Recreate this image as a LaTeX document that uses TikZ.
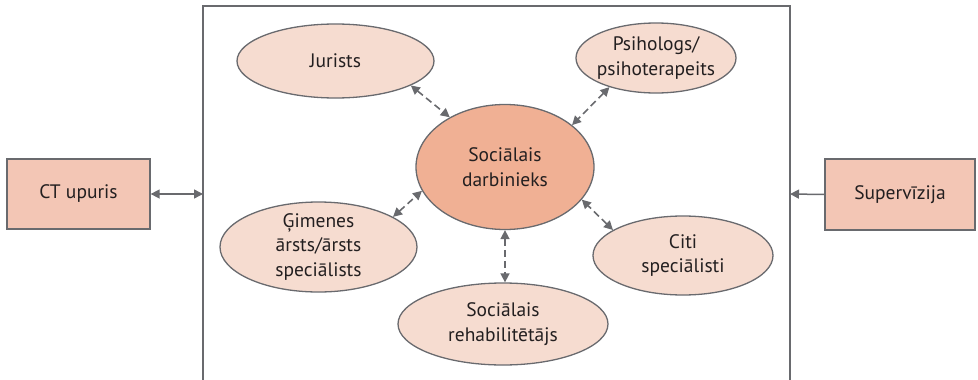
\documentclass[tikz,border=0pt]{standalone}
\usepackage{fontspec}
\setmainfont{PT Sans}
\usetikzlibrary{shapes.geometric,arrows.meta}
\definecolor{edgegray}{RGB}{105,106,110}
\definecolor{lightfill}{RGB}{246,220,208}
\definecolor{midfill}{RGB}{240,176,148}
\definecolor{boxfill}{RGB}{243,198,181}
\definecolor{textcol}{RGB}{35,31,32}
\tikzset{
  oval/.style={ellipse, draw=edgegray, line width=1.3pt, fill=lightfill, inner sep=0pt,
     align=center, text=textcol, font=\fontsize{19.5}{24.5}\selectfont},
  centeroval/.style={oval, fill=midfill},
  sidebox/.style={rectangle, draw=edgegray, line width=1.3pt, fill=boxfill, inner sep=0pt,
     align=center, text=textcol, font=\fontsize{19.5}{24.5}\selectfont},
  link/.style={draw=edgegray, line width=1.6pt, dash pattern=on 7pt off 4pt, {Triangle[length=9pt,width=9pt]}-{Triangle[length=9pt,width=9pt]}},
  solidlink/.style={draw=edgegray, line width=1.5pt},
  frame/.style={draw=edgegray, line width=1.8pt}
}
\begin{document}
\begin{tikzpicture}[x=1pt,y=-1pt]
\useasboundingbox (0,0) rectangle (978,380);
% frame
\coordinate (fbl) at (203,381);
\coordinate (ftl) at (203,6);
\coordinate (ftr) at (790,6);
\coordinate (fbr) at (790,381);
\draw[frame] (fbl) -- (ftl) -- (ftr) -- (fbr);
\coordinate (fleft) at (203,194);
\coordinate (fright) at (790,194);
% side boxes
\node[sidebox, minimum width=143pt, minimum height=70pt] (ct) at (78.5,194) {CT upuris};
\node[sidebox, minimum width=150pt, minimum height=71pt] (sup) at (900,194.5) {Supervīzija};
\draw[solidlink, {Triangle[length=9pt,width=9pt]}-{Triangle[length=9pt,width=9pt]}] (ct.east) -- (fleft);
\draw[solidlink, -{Triangle[length=9pt,width=9pt]}] (sup.west) -- (fright);
% ellipses
\node[centeroval, minimum width=178pt, minimum height=125pt] (soc) at (505,167) {Sociālais\\darbinieks};
\node[oval, minimum width=197pt, minimum height=74pt] (jur) at (335.5,61) {Jurists};
\node[oval, inner xsep=-20pt, inner ysep=-8pt, minimum width=160pt, minimum height=70pt] (psi) at (656,58) {Psihologs/\\psihoterapeits};
\node[oval, inner xsep=-10pt, inner ysep=-10pt, minimum width=197pt, minimum height=90pt] (gim) at (318.5,247) {Ģimenes\\ārsts/ārsts\\speciālists};
\node[oval, minimum width=180pt, minimum height=79pt] (citi) at (683,255.5) {Citi\\speciālisti};
\node[oval, minimum width=210pt, minimum height=82pt] (reh) at (503,324) {Sociālais\\rehabilitētājs};
% links
\draw[link] (jur.-18) -- (soc.138);
\draw[link] (psi.212) -- (soc.32);
\draw[link] (gim.22) -- (soc.196);
\draw[link] (citi.160) -- (soc.-23);
\draw[link] (soc.south) -- (soc.south |- reh.north);
\end{tikzpicture}
\end{document}
